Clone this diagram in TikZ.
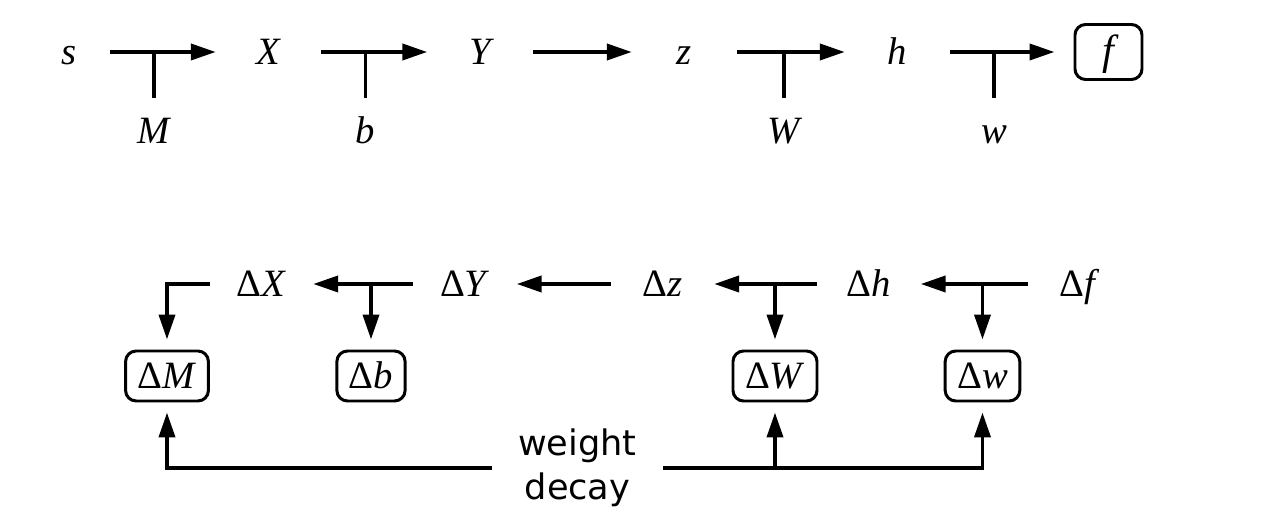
\documentclass[tikz,border=0pt]{standalone}
\usepackage{fontspec}
\setmainfont{Liberation Serif}
\newfontfamily\sansfont{DejaVu Sans}
\usetikzlibrary{arrows.meta}

\newcommand{\dvar}[1]{Δ\textit{#1}}

\tikzset{
    var/.style={inner sep=0pt, minimum width=1.04cm, text height=7pt, text depth=0pt,
        font=\fontsize{11}{13}\selectfont\itshape},
    param/.style={inner xsep=0pt, inner ysep=0.2cm, text height=7pt, text depth=0pt,
        font=\fontsize{11}{13}\selectfont\itshape},
    grad/.style={inner sep=0pt, minimum width=1.02cm, text height=7pt, text depth=0pt,
        font=\fontsize{11}{13}\selectfont},
    gbox/.style={draw, line width=0.85pt, rounded corners=3pt, inner xsep=0.12cm, inner ysep=0pt,
        minimum height=0.5cm, text height=7pt, text depth=0pt, font=\fontsize{11}{13}\selectfont},
    flow/.style={-{Triangle[length=2.5mm,width=1.6mm]}, line width=1.1pt},
    stem/.style={line width=1.1pt},
}

\begin{document}
\begin{tikzpicture}
    \useasboundingbox (0,0) rectangle (12.63,-5.17);

    % forward pass
    \node[var, minimum width=0.8cm] (s) at (0.69,-0.52) {s};
    \foreach \name/\x in {X/2.685, Y/4.80, z/6.845, h/8.975} {
        \node[var] (\name) at (\x,-0.52) {\name};
    }
    \node[draw, line width=0.85pt, rounded corners=3pt, inner sep=0pt, minimum width=0.67cm,
        minimum height=0.55cm, text height=7pt, text depth=0pt,
        font=\fontsize{12}{14}\selectfont\itshape] (f) at (11.085,-0.52) {f};
    \foreach \a/\b in {s/X, X/Y, Y/z, z/h} {
        \draw[flow] (\a) -- (\b);
    }
    \draw[flow, shorten >=0.19cm] (h) -- (f);

    % parameters
    \foreach \name/\x/\row in {M/1.54/s, b/3.655/X, W/7.84/z, w/9.94/h} {
        \node[param] (\name) at (\x,-1.31) {\name};
        \draw[stem] (\name) -- (\name |- \row);
    }

    % backward pass
    \foreach \name/\x/\txt in {dX/2.615/X, dY/4.65/Y, dz/6.625/z, dh/8.69/h, df/10.80/f} {
        \node[grad] (\name) at (\x,-2.84) {\dvar{\txt}};
    }
    \foreach \a/\b in {dY/dX, dz/dY, dh/dz, df/dh} {
        \draw[flow] (\a) -- (\b);
    }

    % gradients of the parameters
    \foreach \name/\x/\txt in {dM/1.67/M, db/3.71/b, dW/7.75/W, dw/9.825/w} {
        \node[gbox] (\name) at (\x,-3.76) {\dvar{\txt}};
    }
    \draw[flow, shorten >=0.1cm] (dX.west) -| (dM.north);
    \foreach \p/\row in {db/dY, dW/dh, dw/df} {
        \draw[flow, shorten >=0.1cm] (\p |- \row) -- (\p);
    }

    % weight decay
    \node[font=\sansfont\fontsize{10}{12.5}\selectfont, align=center, inner xsep=0.26cm, inner ysep=0pt]
        (wd) at (5.775,-4.68) {weight\\decay};
    \draw[flow, shorten >=0.1cm] (wd.west) -| (dM.south);
    \draw[flow, shorten >=0.1cm] (wd.east) -| (dw.south);
    \draw[flow, shorten >=0.1cm] (dW |- wd.east) -- (dW);
\end{tikzpicture}
\end{document}
